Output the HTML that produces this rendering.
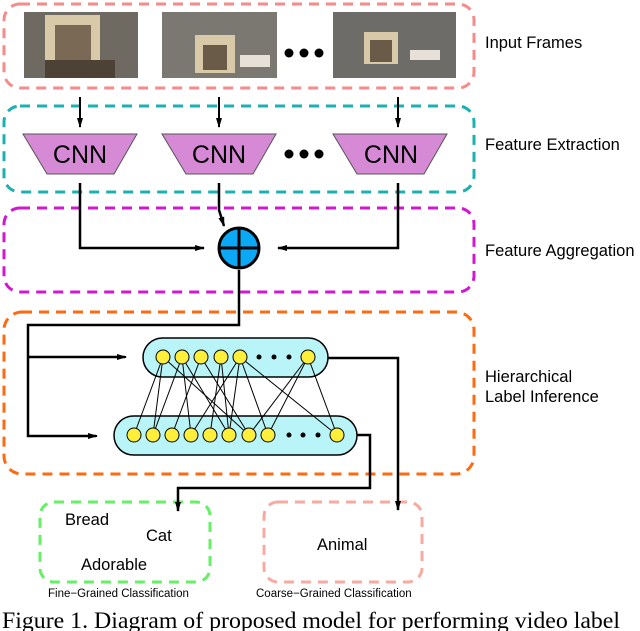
<!DOCTYPE html>
<html><head><style>
body{margin:0;background:#fff;}
svg{display:block;font-family:"Liberation Sans",sans-serif;}
</style></head><body>
<svg width="640" height="631" viewBox="0 0 640 631" xmlns="http://www.w3.org/2000/svg">
<defs>
<marker id="a" markerWidth="10" markerHeight="8" refX="9" refY="4" orient="auto" markerUnits="userSpaceOnUse"><path d="M0,1 L10,4 L0,7 Z" fill="#000"/></marker>
</defs>
<g fill="none" stroke-width="3" stroke-dasharray="10,7">
<rect x="4" y="4" width="470" height="84" rx="16" stroke="#f78a8a"/>
<rect x="4" y="106" width="470" height="86" rx="16" stroke="#1cb0b0"/>
<rect x="4" y="208" width="470" height="84" rx="16" stroke="#d018d0"/>
<rect x="4" y="312" width="470" height="162" rx="18" stroke="#ff6a10"/>
<rect x="40" y="502" width="170" height="80" rx="14" stroke="#66f066"/>
<rect x="264" y="502" width="158" height="80" rx="14" stroke="#f8aaa0"/>
</g>
<g>
<rect x="24" y="12" width="114" height="66" fill="#6e6a62"/>
<rect x="45" y="15" width="55" height="55" fill="#d8c9a8"/><rect x="55" y="25" width="36" height="40" fill="#7a6a55"/>
<rect x="45" y="60" width="70" height="18" fill="#4e4236"/>
<rect x="162" y="12" width="115" height="66" fill="#7a7870"/>
<rect x="195" y="35" width="40" height="38" fill="#d8c9a8"/><rect x="203" y="45" width="24" height="25" fill="#6a5a48"/>
<rect x="240" y="55" width="30" height="12" fill="#e6e0d8"/>
<rect x="333" y="12" width="123" height="66" fill="#6e6c68"/>
<rect x="364" y="32" width="34" height="32" fill="#d8c9a8"/><rect x="370" y="40" width="22" height="22" fill="#6a5a48"/>
<rect x="410" y="50" width="30" height="10" fill="#e6e0d8"/>
</g>
<g fill="#000"><circle cx="289" cy="53" r="4.5"/><circle cx="304" cy="53" r="4.5"/><circle cx="319" cy="53" r="4.5"/></g>
<g stroke="#000" stroke-width="2" marker-end="url(#a)">
<line x1="80" y1="97" x2="80" y2="127"/><line x1="219" y1="97" x2="219" y2="127"/><line x1="398" y1="97" x2="398" y2="127"/>
</g>
<g fill="#d68ad6" stroke="#555" stroke-width="1">
<polygon points="23,134 137,134 114,174 47,174"/>
<polygon points="162,134 276,134 253,174 186,174"/>
<polygon points="333,134 447,134 424,174 357,174"/>
</g>
<g font-size="25" text-anchor="middle" fill="#000">
<text x="80" y="163">CNN</text><text x="219" y="163">CNN</text><text x="391" y="163">CNN</text>
</g>
<g fill="#000"><circle cx="289" cy="154" r="4.5"/><circle cx="304" cy="154" r="4.5"/><circle cx="319" cy="154" r="4.5"/></g>
<g stroke="#000" stroke-width="2.5" fill="none">
<polyline points="80,183 80,248 204,248" marker-end="url(#a)"/>
<polyline points="398,183 398,248 278,248" marker-end="url(#a)"/>
<polyline points="219,183 219,210 224,226" marker-end="url(#a)"/>
<polyline points="239,270 239,325 28,325 28,436 96,436"/>
<line x1="28" y1="357" x2="125" y2="357"/>
</g>
<g stroke="#000" stroke-width="2"><line x1="110" y1="357" x2="126" y2="357" marker-end="url(#a)"/><line x1="80" y1="436" x2="97" y2="436" marker-end="url(#a)"/></g>
<circle cx="239" cy="248" r="20" fill="#0aa8f5" stroke="#000" stroke-width="3"/>
<line x1="219" y1="248" x2="259" y2="248" stroke="#000" stroke-width="3"/>
<line x1="239" y1="228" x2="239" y2="268" stroke="#000" stroke-width="3"/>
<rect x="143" y="338" width="185" height="39" rx="19.5" fill="#b8f4f8" stroke="#000" stroke-width="1.5"/>
<rect x="114" y="416" width="243" height="39" rx="19.5" fill="#b8f4f8" stroke="#000" stroke-width="1.5"/>
<g stroke="#000" stroke-width="1">
<line x1="163" y1="357" x2="134" y2="435"/><line x1="163" y1="357" x2="153" y2="435"/><line x1="163" y1="357" x2="249" y2="435"/>
<line x1="182" y1="357" x2="153" y2="435"/><line x1="182" y1="357" x2="191" y2="435"/><line x1="182" y1="357" x2="229" y2="435"/>
<line x1="201" y1="357" x2="172" y2="435"/><line x1="201" y1="357" x2="249" y2="435"/>
<line x1="221" y1="357" x2="229" y2="435"/><line x1="221" y1="357" x2="210" y2="435"/>
<line x1="240" y1="357" x2="191" y2="435"/><line x1="240" y1="357" x2="229" y2="435"/><line x1="240" y1="357" x2="268" y2="435"/><line x1="240" y1="357" x2="337" y2="435"/>
<line x1="308" y1="357" x2="249" y2="435"/><line x1="308" y1="357" x2="268" y2="435"/><line x1="308" y1="357" x2="337" y2="435"/>
</g>
<g fill="#ffef3a" stroke="#000" stroke-width="1">
<circle cx="163" cy="357" r="7"/><circle cx="182" cy="357" r="7"/><circle cx="201" cy="357" r="7"/><circle cx="221" cy="357" r="7"/><circle cx="240" cy="357" r="7"/><circle cx="308" cy="357" r="7"/>
<circle cx="134" cy="435" r="7"/><circle cx="153" cy="435" r="7"/><circle cx="172" cy="435" r="7"/><circle cx="191" cy="435" r="7"/><circle cx="210" cy="435" r="7"/><circle cx="229" cy="435" r="7"/><circle cx="249" cy="435" r="7"/><circle cx="268" cy="435" r="7"/><circle cx="337" cy="435" r="7"/>
</g>
<g fill="#000"><circle cx="259" cy="357" r="2.5"/><circle cx="274" cy="357" r="2.5"/><circle cx="289" cy="357" r="2.5"/>
<circle cx="289" cy="435" r="2.5"/><circle cx="303" cy="435" r="2.5"/><circle cx="318" cy="435" r="2.5"/></g>
<g stroke="#000" stroke-width="2.5" fill="none">
<polyline points="328,358 398,358 398,510" marker-end="url(#a)"/>
<polyline points="357,435 370,435 370,488 178,488 178,511" marker-end="url(#a)"/>
</g>
<g font-size="16.5" fill="#000">
<text x="485" y="48">Input Frames</text>
<text x="485" y="150">Feature Extraction</text>
<text x="485" y="256">Feature Aggregation</text>
<text x="485" y="382">Hierarchical</text>
<text x="485" y="402">Label Inference</text>
<text x="65" y="525">Bread</text>
<text x="146" y="541">Cat</text>
<text x="81" y="570">Adorable</text>
<text x="317" y="550">Animal</text>
</g>
<g font-size="11.5" fill="#000">
<text x="48" y="597">Fine−Grained Classification</text>
<text x="256" y="597">Coarse−Grained Classification</text>
</g>
<text x="2" y="628" font-family="Liberation Serif,serif" font-size="23" textLength="618" lengthAdjust="spacingAndGlyphs" fill="#000">Figure 1. Diagram of proposed model for performing video label</text>
</svg>
</body></html>
